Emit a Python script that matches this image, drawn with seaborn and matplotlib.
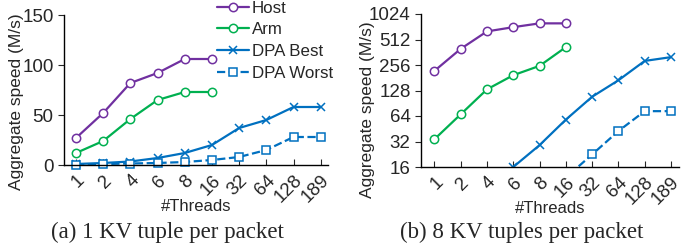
import numpy as np
import matplotlib
matplotlib.use('Agg')
import matplotlib.pyplot as plt
import seaborn as sns

# Data
threads = ['1', '2', '4', '6', '8', '16', '32', '64', '128', '189']

# (a) 1 KV tuple per packet
host_a = [27, 52, 82, 92, 106, 106]
arm_a = [12, 24, 46, 65, 73, 73]
dpa_best_a = [1, 2, 3.5, 7, 12, 20, 37, 45, 58, 58]
dpa_worst_a = [0.5, 1, 1.5, 2, 3, 5, 8, 15, 28, 28]

# (b) 8 KV tuples per packet
host_b = [218, 397, 638, 716, 794, 794]
arm_b = [34, 67, 132, 194, 250, 416]
dpa_best_b = [5, 8, 11, 16, 29, 58, 108, 169, 286, 317]
dpa_worst_b = [2, 3, 5, 7, 9, 12, 22.5, 42.5, 73, 73]

sns.set_style('ticks')
plt.rcParams['font.family'] = ['Liberation Sans', 'DejaVu Sans']

purple = '#7030A0'
green = '#00B050'
blue = '#0070C0'

fig = plt.figure(figsize=(6.84, 2.5), dpi=100)
ax1 = fig.add_axes([0.0936, 0.34, 0.386, 0.60])
ax2 = fig.add_axes([0.6155, 0.332, 0.377, 0.612])

pos = np.arange(1, len(threads) + 1)


def draw(ax, host, arm, best, worst, clip):
    kw = dict(lw=1.6, ms=6, mew=1.1, clip_on=clip, ax=ax)
    sns.lineplot(x=pos[:len(host)], y=host, color=purple, marker='o',
                 mfc='white', mec=purple, label='Host', **kw)
    sns.lineplot(x=pos[:len(arm)], y=arm, color=green, marker='o',
                 mfc='white', mec=green, label='Arm', **kw)
    sns.lineplot(x=pos, y=best, color=blue, marker='x', mec=blue,
                 label='DPA Best', **kw)
    sns.lineplot(x=pos, y=worst, color=blue, marker='s', mfc='white',
                 mec=blue, ls='--', label='DPA Worst', **kw)
    ax.set_xticks(pos)
    ax.set_xticklabels(threads, rotation=45, ha='right', rotation_mode='anchor')
    ax.tick_params(axis='x', direction='in', length=4, labelsize=13.5, pad=5)
    ax.tick_params(axis='y', direction='out', length=4, labelsize=13.5)
    ax.set_xlabel('#Threads', fontsize=12, labelpad=-5)
    ax.set_ylabel('Aggregate speed (M/s)', fontsize=12.5)
    for s in ['top', 'right']:
        ax.spines[s].set_visible(False)
    for s in ['left', 'bottom']:
        ax.spines[s].set_color('black')
        ax.spines[s].set_linewidth(1.0)


draw(ax1, host_a, arm_a, dpa_best_a, dpa_worst_a, False)
ax1.set_xlim(0.56, 10.27)
ax1.set_ylim(0, 150)
ax1.set_yticks([0, 50, 100, 150])
ax1.yaxis.set_label_coords(-0.15, 0.42)

draw(ax2, host_b, arm_b, dpa_best_b, dpa_worst_b, True)
ax2.set_yscale('log', base=2)
ax2.set_ylim(16, 1024)
ax2.set_xlim(0.49, 10.3)
yt = [16, 32, 64, 128, 256, 512, 1024]
ax2.set_yticks(yt)
ax2.set_yticklabels([str(v) for v in yt])
ax2.minorticks_off()
ax2.yaxis.set_label_coords(-0.18, 0.375)
ax2.get_legend().remove()

handles, labels = ax1.get_legend_handles_labels()
ax1.get_legend().remove()
fig.legend(handles, labels, loc='upper left', bbox_to_anchor=(0.307, 1.025),
           frameon=False, fontsize=12.2, handlelength=1.9, handletextpad=0.15,
           labelspacing=0.4, borderaxespad=0)

fig.text(167 / 684, 1 - 232 / 250, '(a) 1 KV tuple per packet', ha='center',
         va='center', fontsize=16.5, family='Liberation Serif')
fig.text(522 / 684, 1 - 232 / 250, '(b) 8 KV tuples per packet', ha='center',
         va='center', fontsize=16.5, family='Liberation Serif')

fig.savefig('out.png', dpi=100)
